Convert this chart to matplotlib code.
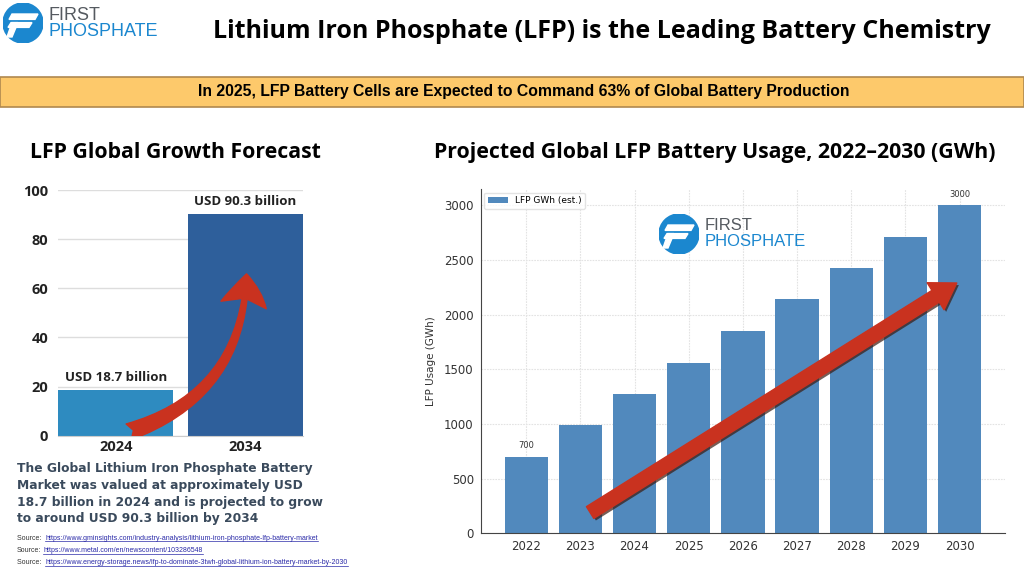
import numpy as np
import matplotlib
matplotlib.use("Agg")
import matplotlib.pyplot as plt
from matplotlib.patches import Rectangle, Circle, Polygon, FancyArrowPatch
import matplotlib.patheffects as pe

# left chart data
market_years = ["2024", "2034"]
market_values = [18.7, 90.3]
market_labels = ["USD 18.7 billion", "USD 90.3 billion"]

# right chart data
usage_years = [2022, 2023, 2024, 2025, 2026, 2027, 2028, 2029, 2030]
usage_gwh = [700, 990, 1275, 1560, 1850, 2140, 2430, 2710, 3000]

sources = [
    ("Source: ", "https://www.gminsights.com/industry-analysis/lithium-iron-phosphate-lfp-battery-market"),
    ("Source:", "https://www.metal.com/en/newscontent/103286548"),
    ("Source: ", "https://www.energy-storage.news/lfp-to-dominate-3twh-global-lithium-ion-battery-market-by-2030"),
]

W, H = 1024, 569
BLUE_LOGO = "#1b87cf"
HEAD = "Open Sans"


def fx(x):
    return x / W


def fy(y):
    return 1 - y / H


def logo(fig, cx, cy, r, fs1, fs2):
    ax = fig.add_axes([fx(cx - r), fy(cy + r), fx(2 * r), 2 * r / H])
    ax.set_xlim(-1, 1)
    ax.set_ylim(-1, 1)
    ax.axis("off")
    ax.add_patch(Circle((0, 0), 1, color=BLUE_LOGO))
    # white stripes of the "F"
    ax.add_patch(Polygon([(-0.55, 0.45), (0.75, 0.45), (0.6, 0.18), (-0.7, 0.18)], color="white"))
    ax.add_patch(Polygon([(-0.6, 0.02), (0.45, 0.02), (0.3, -0.22), (-0.75, -0.22)], color="white"))
    ax.add_patch(Polygon([(-0.55, 0.02), (-0.25, 0.02), (-0.55, -0.7), (-0.8, -0.7)], color="white"))
    fig.text(fx(cx + r + 6), fy(cy - r * 0.4), "FIRST", fontsize=fs1, color="#555a60",
             family="Liberation Sans", va="center")
    fig.text(fx(cx + r + 6), fy(cy + r * 0.4), "PHOSPHATE", fontsize=fs2, color=BLUE_LOGO,
             family="Liberation Sans", va="center")


def main():
    fig = plt.figure(figsize=(W / 100, H / 100), dpi=100)
    fig.patch.set_facecolor("white")

    # header
    logo(fig, 23, 23, 20, 13, 13)
    fig.text(fx(602), fy(31), "Lithium Iron Phosphate (LFP) is the Leading Battery Chemistry",
             fontsize=18, fontweight="bold", family=HEAD, ha="center", va="center")

    # banner
    fig.patches.append(Rectangle((0, fy(107)), 1, 30 / H, transform=fig.transFigure,
                                 facecolor="#fdc96b", edgecolor="#b0894f", lw=1.2))
    fig.text(fx(524), fy(92), "In 2025, LFP Battery Cells are Expected to Command 63% of Global Battery Production",
             fontsize=11.3, fontweight="bold", family="Liberation Sans", ha="center", va="center")

    # ---------- left chart ----------
    fig.text(fx(30), fy(152), "LFP Global Growth Forecast", fontsize=15.3, fontweight="bold",
             family=HEAD, va="center")
    ax1 = fig.add_axes([fx(58), fy(435.7), fx(303 - 58), (435.7 - 190) / H])
    x1 = np.arange(len(market_values))
    ax1.bar(x1, market_values, width=0.89, color=["#2e8bc0", "#2e5f9b"], zorder=2)
    ax1.set_xlim(-0.445, 1.445)
    ax1.set_ylim(0, 100)
    ax1.set_yticks(range(0, 101, 20))
    ax1.set_xticks(x1)
    ax1.set_xticklabels(market_years)
    ax1.grid(axis="y", color="#dddddd", lw=1, zorder=0)
    for s in ["top", "right", "left"]:
        ax1.spines[s].set_visible(False)
    ax1.spines["bottom"].set_color("#cccccc")
    ax1.tick_params(length=0, labelsize=10.5, pad=3)
    for lab in ax1.get_xticklabels() + ax1.get_yticklabels():
        lab.set_fontweight("bold")
        lab.set_family(HEAD)
        lab.set_color("#222222")
    ax1.tick_params(axis="y", pad=7)
    for i, (v, t) in enumerate(zip(market_values, market_labels)):
        ax1.text(i, v + 2.5, t, ha="center", va="bottom", fontsize=9.5, fontweight="bold", family=HEAD,
                 color="#222222")
    arr = FancyArrowPatch((0.08, 1.2), (1.01, 67), connectionstyle="arc3,rad=0.36",
                          arrowstyle="fancy,head_length=0.75,head_width=1.1,tail_width=0.4",
                          mutation_scale=30, color="#c9321f", zorder=3)
    ax1.add_patch(arr)

    para = ("The Global Lithium Iron Phosphate Battery\nMarket was valued at approximately USD\n"
            "18.7 billion in 2024 and is projected to grow\nto around USD 90.3 billion by 2034")
    fig.text(fx(17), fy(462), para, fontsize=8.85, fontweight="bold", color="#3a4a5c",
             family="DejaVu Sans", va="top", linespacing=1.38)

    fig.canvas.draw()
    rend = fig.canvas.get_renderer()
    for i, (pre, url) in enumerate(sources):
        y = fy(538 + i * 12.4)
        t1 = fig.text(fx(17), y, pre, fontsize=5, family="Liberation Sans", va="center", color="#333333")
        bb = t1.get_window_extent(rend)
        t2 = fig.text(bb.x1 / W + 0.002, y, url, fontsize=5, family="Liberation Sans", va="center",
                      color="#2a2aa8")
        bb2 = t2.get_window_extent(rend)
        fig.lines.append(plt.Line2D([bb2.x0 / W, bb2.x1 / W], [bb2.y0 / H + 0.0005] * 2,
                                    transform=fig.transFigure, color="#2a2aa8", lw=0.5))

    # ---------- right chart ----------
    fig.text(fx(434), fy(152), "Projected Global LFP Battery Usage, 2022\u20132030 (GWh)", fontsize=15.3,
             fontweight="bold", family=HEAD, va="center")
    ax2 = fig.add_axes([fx(480.7), fy(533.3), fx(1005 - 480.7), (533.3 - 189) / H])
    ax2.bar(usage_years, usage_gwh, width=0.8, color="#5189bd", label="LFP GWh (est.)", zorder=2)
    ax2.set_xticks(usage_years)
    ax2.grid(color="#e3e3e3", lw=0.8, ls=(0, (1.5, 1)), zorder=0)
    ax2.set_axisbelow(True)
    for s in ["top", "right"]:
        ax2.spines[s].set_visible(False)
    for s in ["left", "bottom"]:
        ax2.spines[s].set_color("#444444")
    ax2.tick_params(labelsize=8.5, colors="#333333", length=0, pad=5)
    ax2.set_ylabel("LFP Usage (GWh)", fontsize=7.5, color="#333333", labelpad=6)
    ax2.text(usage_years[0], usage_gwh[0] + 60, str(usage_gwh[0]), ha="center", va="bottom", fontsize=6,
             color="#333333")
    ax2.text(usage_years[-1], usage_gwh[-1] + 60, str(usage_gwh[-1]), ha="center", va="bottom", fontsize=6,
             color="#333333")
    leg = ax2.legend(loc="upper left", fontsize=6.5, frameon=True, borderaxespad=0.4, handlelength=2.2)
    leg.get_frame().set_edgecolor("#dddddd")
    arr2 = FancyArrowPatch((2023.18, 190), (2029.95, 2290),
                           arrowstyle="simple,head_length=0.9,head_width=1.15,tail_width=0.5",
                           mutation_scale=20, color="#c9321f", zorder=4, shrinkA=0, shrinkB=0,
                           path_effects=[pe.SimplePatchShadow(offset=(1.5, -1.5), shadow_rgbFace="#3a1a10", alpha=0.7),
                                         pe.Normal()])
    ax2.add_patch(arr2)

    logo(fig, 679, 234, 20, 12, 12)

    fig.savefig("out.png", dpi=100)


if __name__ == "__main__":
    main()
